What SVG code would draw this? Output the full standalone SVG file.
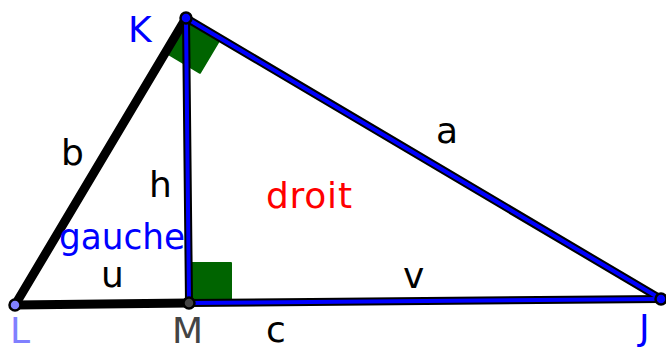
<svg xmlns="http://www.w3.org/2000/svg" width="666" height="352" viewBox="0 0 666 352">
<style>
text{font-family:"DejaVu Sans","Liberation Sans",sans-serif;font-size:36px}
.blk{stroke:#000;stroke-width:9;stroke-linecap:round;fill:none}
.bo{stroke:#000;stroke-width:8;stroke-linecap:round;fill:none}
.bi{stroke:#0000ff;stroke-width:4;stroke-linecap:round;fill:none}
.ra{fill:#006400;stroke:#006400;stroke-width:2;stroke-linejoin:round}
.pt{stroke:#000;stroke-width:2.5}
</style>
<rect width="666" height="352" fill="#fff"/>
<g id="angles">
<path class="ra" d="M186,18 L165.6,52.4 L200,72.8 L220.4,38.4 Z"/>
<path class="ra" d="M191,263 L231,263 L231,301 L191,301 Z"/>
</g>
<g id="connectors">
<line class="blk" x1="15" y1="305" x2="186" y2="18"/>
<line class="blk" x1="15" y1="305" x2="189" y2="303"/>
<line class="bo" x1="186" y1="18" x2="189" y2="303"/>
<line class="bo" x1="186" y1="18" x2="661" y2="299"/>
<line class="bo" x1="189" y1="303" x2="661" y2="299"/>
<line class="bi" x1="186" y1="18" x2="189" y2="303"/>
<line class="bi" x1="186" y1="18" x2="661" y2="299"/>
<line class="bi" x1="189" y1="303" x2="661" y2="299"/>
</g>
<g id="K"><circle class="pt" cx="186" cy="18" r="5.5" fill="#0000ff"/><text x="128" y="42" fill="#0000ff">K</text></g>
<g id="L"><circle class="pt" cx="15" cy="305" r="5.5" fill="#8080ff"/><text x="10" y="343" fill="#8080ff">L</text></g>
<g id="M"><circle class="pt" cx="189" cy="303" r="5.5" fill="#444"/><text x="172" y="343" fill="#444">M</text></g>
<g id="J"><circle class="pt" cx="661" cy="299" r="5.5" fill="#0000ff"/><text x="639" y="340" fill="#0000ff">J</text></g>
<g id="labels">
<text x="436" y="143">a</text>
<text x="61" y="165">b</text>
<text x="149" y="197">h</text>
<text x="266" y="208" fill="#ff0000" textLength="86">droit</text>
<text x="59" y="249" fill="#0000ff" textLength="126" lengthAdjust="spacingAndGlyphs">gauche</text>
<text x="101" y="287">u</text>
<text x="403" y="288">v</text>
<text x="266" y="342">c</text>
</g>
</svg>
